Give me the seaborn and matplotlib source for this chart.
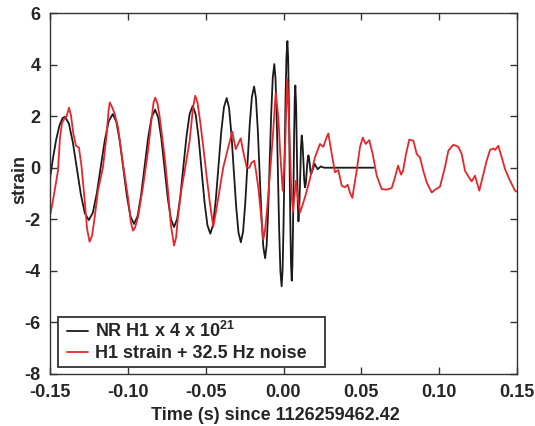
import matplotlib
matplotlib.use("Agg")
import matplotlib.pyplot as plt
from matplotlib.patches import Rectangle
import seaborn as sns
import pandas as pd

# ---- data ----
nr_t = [-0.1500, -0.1480, -0.1460, -0.1440, -0.1420, -0.1404,
        -0.13785, -0.1353, -0.13275, -0.1302, -0.12765, -0.1251,
        -0.12253, -0.11997, -0.1174, -0.11483, -0.11227, -0.1097,
        -0.10742, -0.10513, -0.10285, -0.10057, -0.09828, -0.0960,
        -0.09375, -0.0915, -0.08925, -0.0870, -0.08475, -0.0825,
        -0.08047, -0.07843, -0.0764, -0.07437, -0.07233, -0.0703,
        -0.0683, -0.0663, -0.0643, -0.0623, -0.0603, -0.0583,
        -0.05642, -0.05453, -0.05265, -0.05077, -0.04888, -0.0470,
        -0.04525, -0.0435, -0.04175, -0.0400, -0.03825, -0.0365,
        -0.03498, -0.03347, -0.03195, -0.03043, -0.02892, -0.0274,
        -0.02598, -0.02457, -0.02315, -0.02173, -0.02032, -0.0189,
        -0.01772, -0.01653, -0.01535, -0.01417, -0.01298, -0.0118,
        -0.01082, -0.00983, -0.00885, -0.00787, -0.00688, -0.0059,
        -0.00512, -0.00433, -0.00355, -0.00277, -0.00198, -0.0012,
        -0.00058, 0.00003, 0.00065, 0.00127, 0.00188, 0.0025,
        0.00297, 0.00343, 0.0039, 0.00437, 0.00483, 0.0053,
        0.00568, 0.00607, 0.00645, 0.00683, 0.00722, 0.0076,
        0.0081, 0.0086, 0.0091, 0.0096,
        0.0101, 0.0107, 0.0112, 0.0117,
        0.0122, 0.0128, 0.0133, 0.0138,
        0.0144, 0.0149, 0.0155, 0.0160,
        0.0164, 0.0169, 0.0173, 0.0177,
        0.0189, 0.0200, 0.0210, 0.0220, 0.0230, 0.0240, 0.0260, 0.0580]
nr_h = [-0.40, 0.40, 1.10, 1.62, 1.92, 1.98,
        1.711, 0.977, -0.025, -1.028, -1.761, -2.03,
        -1.755, -1.002, 0.025, 1.053, 1.805, 2.08,
        1.795, 1.015, -0.05, -1.115, -1.895, -2.18,
        -1.883, -1.072, 0.035, 1.143, 1.953, 2.25,
        1.945, 1.112, -0.025, -1.163, -1.995, -2.30,
        -1.985, -1.125, 0.05, 1.225, 2.085, 2.40,
        2.068, 1.16, -0.08, -1.32, -2.228, -2.56,
        -2.208, -1.245, 0.07, 1.385, 2.348, 2.70,
        2.325, 1.302, -0.095, -1.493, -2.515, -2.89,
        -2.485, -1.38, 0.13, 1.64, 2.745, 3.15,
        2.704, 1.485, -0.18, -1.845, -3.064, -3.51,
        -3.005, -1.627, 0.255, 2.138, 3.515, 4.02,
        3.442, 1.865, -0.29, -2.445, -4.022, -4.60,
        -3.963, -2.222, 0.155, 2.533, 4.273, 4.91,
        4.288, 2.587, 0.265, -2.058, -3.758, -4.38,
        -3.873, -2.487, -0.595, 1.298, 2.683, 3.19,
        2.42, 0.56, -1.31, -2.08,
        -1.59, -0.42, 0.76, 1.25,
        0.96, 0.25, -0.47, -0.76,
        -0.58, -0.14, 0.30, 0.48,
        0.37, 0.12, -0.14, -0.25,
        -0.05, 0.15, 0.04, -0.06, 0.00, 0.05, 0.00, 0.00]

h1_t = [-0.1500, -0.1487, -0.1470, -0.1449, -0.1436, -0.1423, -0.1404, -0.1394,
        -0.1378, -0.1365, -0.1350, -0.1333, -0.1314, -0.1298, -0.1277, -0.1262,
        -0.1246, -0.1230, -0.1213, -0.1192, -0.1160, -0.1138, -0.1124, -0.1116,
        -0.1102, -0.1084, -0.1063, -0.1031, -0.0999, -0.0980, -0.0967, -0.0954,
        -0.0935, -0.0903, -0.0870, -0.0849, -0.0835, -0.0824, -0.0809, -0.0795,
        -0.0763, -0.0742, -0.0723, -0.0703, -0.0690, -0.0678, -0.0657, -0.0631,
        -0.0603, -0.0581, -0.0567, -0.0552, -0.0536, -0.0515, -0.0493, -0.0472,
        -0.0451, -0.0429, -0.0408, -0.0387, -0.0355, -0.0329, -0.0307, -0.0275,
        -0.0260, -0.0236, -0.0220, -0.0206, -0.0188, -0.0177, -0.0162, -0.0145,
        -0.0130, -0.0119, -0.0108, -0.0087, -0.0066, -0.0050, -0.0033, -0.0022,
        -0.0011, -0.0005, 0.0003, 0.0010, 0.0016, 0.0024, 0.0035, 0.0042,
        0.0050, 0.0061, 0.0071, 0.0080, 0.0090, 0.0106, 0.0138, 0.0170,
        0.0202, 0.0234, 0.0256, 0.0273, 0.0288, 0.0310, 0.0331, 0.0352,
        0.0374, 0.0395, 0.0412, 0.0427, 0.0442, 0.0470, 0.0491, 0.0509,
        0.0528, 0.0551, 0.0573, 0.0599, 0.0631, 0.0663, 0.0695, 0.0716,
        0.0736, 0.0755, 0.0768, 0.0787, 0.0808, 0.0834, 0.0856, 0.0877,
        0.0898, 0.0920, 0.0952, 0.0980, 0.1005, 0.1037, 0.1059, 0.1091,
        0.1123, 0.1145, 0.1166, 0.1198, 0.1209, 0.1230, 0.1258, 0.1284,
        0.1305, 0.1327, 0.1348, 0.1359, 0.1380, 0.1402, 0.1423, 0.1455,
        0.1487, 0.1500]
h1_h = [-1.86, -1.47, -0.89, -0.12, 1.15, 1.74, 1.94, 1.98,
        2.33, 2.02, 1.32, 0.85, 0.78, 0.08, -1.28, -2.36,
        -2.87, -2.64, -1.93, -0.89, 0.01, 1.17, 2.21, 2.53,
        2.36, 2.08, 1.56, 0.14, -1.15, -2.13, -2.44, -2.33,
        -1.93, -0.76, 0.66, 1.82, 2.52, 2.72, 2.48, 1.95,
        0.40, -0.89, -2.25, -3.02, -2.71, -1.93, -0.89, 0.01,
        1.05, 2.34, 2.79, 2.52, 1.82, 0.79, -0.38, -1.41,
        -2.29, -1.54, -0.76, 0.01, 0.79, 1.40, 0.72, 1.14,
        0.66, 0.01, -0.01, 0.19, 0.27, -0.12, -0.76, -1.79,
        -2.79, -2.44, -1.79, -0.24, 1.43, 2.92, 1.95, 0.66,
        -0.38, -0.89, -0.12, 0.66, 1.95, 3.44, 1.95, 0.66,
        -0.89, -1.71, -1.09, -0.50, -1.09, -1.74, -1.15, -0.43,
        0.40, 0.92, 0.81, 1.12, 1.33, 0.53, -0.18, -0.09,
        -0.70, -0.76, -0.66, -0.97, -1.17, -0.12, 0.79, 1.17,
        0.92, 1.07, 0.53, -0.31, -0.83, -0.85, -0.79, -0.38,
        0.08, -0.27, -0.12, 0.53, 1.09, 1.05, 0.53, 0.40,
        -0.12, -0.57, -0.96, -0.83, -0.74, 0.01, 0.66, 0.89,
        0.81, 0.53, -0.12, -0.44, -0.53, -0.31, -0.89, -0.25,
        0.27, 0.69, 0.75, 0.69, 0.85, 0.40, -0.05, -0.50,
        -0.89, -0.93]

series_labels = ["NR H1 x 4 x 10$^{21}$", "H1 strain + 32.5 Hz noise"]
series_colors = ["#1a1a1a", "#e8262a"]
x_ticks = [-0.15, -0.10, -0.05, 0.00, 0.05, 0.10, 0.15]
x_tick_labels = ["-0.15", "-0.10", "-0.05", "0.00", "0.05", "0.10", "0.15"]
y_ticks = [-8, -6, -4, -2, 0, 2, 4, 6]
y_tick_labels = ["-8", "-6", "-4", "-2", "0", "2", "4", "6"]

# ---- style ----
sns.set_style("ticks")
plt.rcParams["font.family"] = ["Liberation Sans", "DejaVu Sans"]
plt.rcParams["font.weight"] = "bold"
plt.rcParams["axes.unicode_minus"] = False
plt.rcParams["mathtext.fontset"] = "custom"
plt.rcParams["mathtext.rm"] = "Liberation Sans:bold"
plt.rcParams["mathtext.bf"] = "Liberation Sans:bold"
plt.rcParams["mathtext.it"] = "Liberation Sans:bold"
plt.rcParams["mathtext.default"] = "bf"

df_nr = pd.DataFrame({"t": nr_t, "h": nr_h})
df_h1 = pd.DataFrame({"t": h1_t, "h": h1_h})

fig = plt.figure(figsize=(5.35, 4.26), dpi=100)
ax = fig.add_axes([50 / 535, 1 - 374 / 426, 467 / 535, 361 / 426])

sns.lineplot(data=df_nr, x="t", y="h", ax=ax, color=series_colors[0],
             lw=1.3, label=series_labels[0], sort=False, estimator=None)
sns.lineplot(data=df_h1, x="t", y="h", ax=ax, color=series_colors[1],
             lw=1.3, label=series_labels[1], sort=False, estimator=None)
for ln in ax.get_lines():
    ln.set_solid_joinstyle("round")

ax.set_xlim(-0.15, 0.15)
ax.set_ylim(-8, 6)
ax.set_xticks(x_ticks)
ax.set_xticklabels(x_tick_labels)
ax.set_yticks(y_ticks)
ax.set_yticklabels(y_tick_labels)
ax.tick_params(direction="in", top=True, right=True, length=5, width=1,
               labelsize=13, pad=7, color="#333333")
for lab in ax.get_xticklabels() + ax.get_yticklabels():
    lab.set_fontweight("bold")
for sp in ax.spines.values():
    sp.set_visible(True)
    sp.set_color("#333333")
    sp.set_linewidth(1.0)

ax.set_xlabel("Time (s) since 1126259462.42", fontsize=13, fontweight="bold")
ax.xaxis.set_label_coords(0.482, -0.092)
ax.set_ylabel("strain", fontsize=13, fontweight="bold")
ax.yaxis.set_label_coords(-0.047, 0.54)

# legend frame (drawn as a box) and legend entries
ax.add_patch(Rectangle((8 / 467, 7 / 361), 267 / 467, 50 / 361,
                       transform=ax.transAxes, facecolor="white",
                       edgecolor="#333333", lw=1.3, zorder=4))
leg = ax.legend(loc="lower left", bbox_to_anchor=(16.5 / 467, 11.5 / 361),
                fontsize=13, frameon=False, borderpad=0,
                handlelength=1.2, handletextpad=0.4, labelspacing=0.25,
                borderaxespad=0)
leg.set_zorder(5)
for t in leg.get_texts():
    t.set_fontweight("bold")

fig.savefig("out.png", dpi=100)
